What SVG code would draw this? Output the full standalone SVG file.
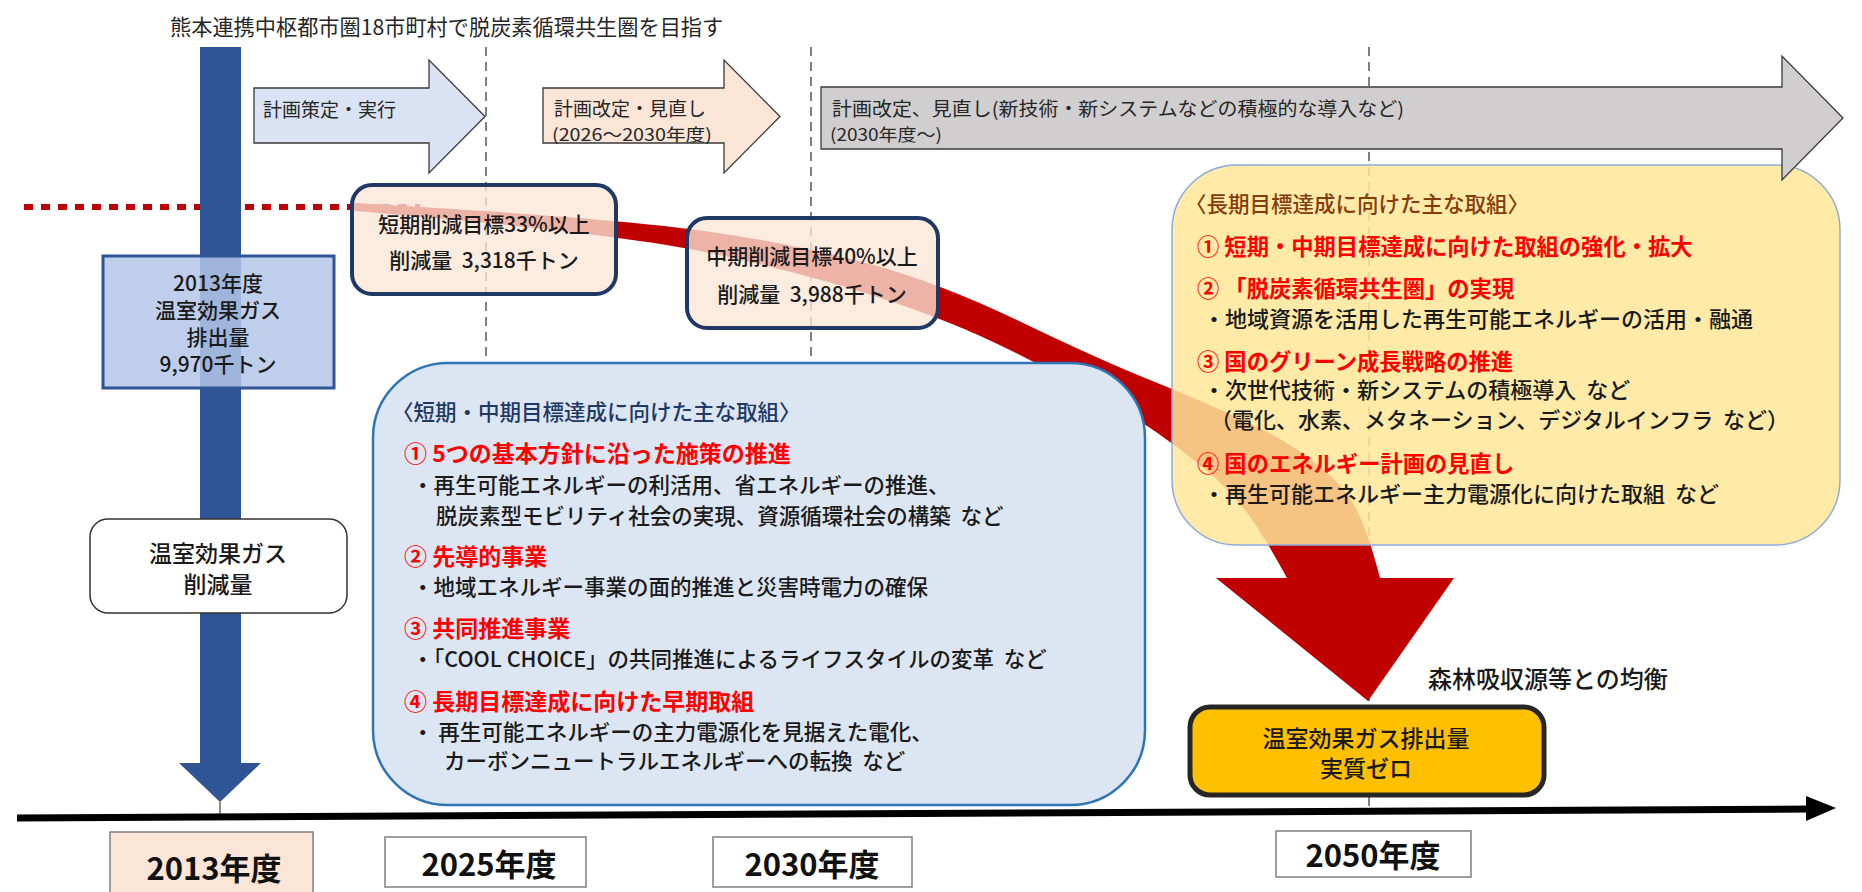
<svg xmlns="http://www.w3.org/2000/svg" width="1862" height="892" viewBox="0 0 1862 892">
<style>
text { font-family: "Noto Sans CJK JP", "Noto Sans", sans-serif; dominant-baseline: central; fill: #1a1a1a; }
.c { text-anchor: middle; }
.m { font-weight: 500; }
.ar { font-size: 19px; fill: #262626; }
.ars { font-size: 17px; fill: #262626; }
.bx { font-size: 21px; font-weight: 500; }
.bb { font-size: 21.5px; font-weight: 500; }
.yb { font-size: 22px; font-weight: 500; }
.red { fill: #ff0000; font-weight: bold; font-size: 23px; }
.redY { fill: #ff0000; font-weight: bold; font-size: 22.3px; }
.hdrB { fill: #203864; font-size: 21.5px; font-weight: 500; }
.hdrY { fill: #843c0c; font-size: 21.5px; font-weight: 500; }
.lbl { font-size: 31px; font-weight: bold; text-anchor: middle; fill: #111; }
.dash { stroke: #7f7f7f; stroke-width: 2; stroke-dasharray: 9 6; fill: none; }
.lblbox { fill: #ffffff; stroke: #7f7f7f; stroke-width: 1.5; }
.tgt { fill: #fbe5d6; fill-opacity: 0.78; stroke: #1f3864; stroke-width: 4; }
.parr { stroke: #3a3a3a; stroke-width: 1.3; }
</style>

<g id="guides">
  <line class="dash" x1="486" y1="47" x2="486" y2="815"/>
  <line class="dash" x1="811" y1="47" x2="811" y2="813"/>
  <line class="dash" x1="1369" y1="47" x2="1369" y2="811"/>
</g>

<g id="title">
  <text x="170" y="25" style="font-size:21.2px;fill:#262626">熊本連携中枢都市圏18市町村で脱炭素循環共生圏を目指す</text>
</g>

<g id="connectors">
  <line x1="24" y1="207" x2="420" y2="207" stroke="#c00000" stroke-width="6" stroke-dasharray="9 8"/>
  <path id="reduction-arrow" fill="#c00000" d="M 355,203 Q 616,218 708,231.5 Q 800,245 870,264 Q 940,283 1020,321.5 Q 1100,360 1150,380 Q 1200,400 1245,421 Q 1290,442 1317.5,464.5 Q 1345,487 1356.5,509.5 Q 1368,532 1380,578 L 1454,578 L 1368,701 L 1216,578 L 1287,578 Q 1262,532 1245,510 Q 1228,488 1205,469 Q 1182,450 1157.5,433 Q 1133,416 1086.5,390 Q 1040,364 990,340.5 Q 940,317 870,294.5 Q 800,272 708,252.5 Q 616,233 355,211 Z"/>
  <rect x="200" y="47" width="41" height="716" fill="#2f5597"/>
  <polygon points="179,763 261,763 220,802" fill="#2f5597"/>
  <line x1="220" y1="802" x2="220" y2="816" stroke="#8c8c8c" stroke-width="2"/>
  <line x1="17" y1="818" x2="1812" y2="809" stroke="#000" stroke-width="7"/>
  <polygon points="1806,796 1836,808 1806,821" fill="#000"/>
</g>

<g id="base-2013">
  <rect x="103" y="256" width="231" height="132" fill="#b4c7e7" fill-opacity="0.85" stroke="#2f5597" stroke-width="3"/>
  <text class="bx c" x="218" y="282">2013年度</text>
  <text class="bx c" x="218" y="309">温室効果ガス</text>
  <text class="bx c" x="218" y="336">排出量</text>
  <text class="bx c" x="218" y="363">9,970千トン</text>
</g>

<g id="reduction-label">
  <rect x="90" y="519" width="257" height="94" rx="18" fill="#fff" stroke="#333" stroke-width="1.5"/>
  <text class="c m" x="218" y="552" style="font-size:23px">温室効果ガス</text>
  <text class="c m" x="218" y="583" style="font-size:23px">削減量</text>
</g>

<g id="target-short">
  <rect class="tgt" x="352" y="185" width="264" height="109" rx="20"/>
  <text class="bx c" x="484" y="223">短期削減目標33%以上</text>
  <text class="bx c" x="484" y="259">削減量&#160;&#160;3,318千トン</text>
</g>

<g id="target-mid">
  <rect class="tgt" x="687" y="218" width="251" height="110" rx="20"/>
  <text class="bx c" x="812" y="255">中期削減目標40%以上</text>
  <text class="bx c" x="812" y="293">削減量&#160;&#160;3,988千トン</text>
</g>

<g id="measures-short-mid">
  <rect x="373" y="363" width="772" height="442" rx="75" fill="#dce6f2" stroke="#2e75b6" stroke-width="2.5"/>
  <text class="hdrB" x="392" y="410">〈短期・中期目標達成に向けた主な取組〉</text>
  <text class="red" x="404" y="452">① 5つの基本方針に沿った施策の推進</text>
  <text class="bb" x="412" y="483">・再生可能エネルギーの利活用、省エネルギーの推進、</text>
  <text class="bb" x="436" y="514">脱炭素型モビリティ社会の実現、資源循環社会の構築&#160;&#160;など</text>
  <text class="red" x="404" y="555">② 先導的事業</text>
  <text class="bb" x="412" y="585">・地域エネルギー事業の面的推進と災害時電力の確保</text>
  <text class="red" x="404" y="627">③ 共同推進事業</text>
  <text class="bb" x="412" y="657">・「COOL CHOICE」の共同推進によるライフスタイルの変革&#160;&#160;など</text>
  <text class="red" x="404" y="700">④ 長期目標達成に向けた早期取組</text>
  <text class="bb" x="412" y="730">・ 再生可能エネルギーの主力電源化を見据えた電化、</text>
  <text class="bb" x="444" y="759">カーボンニュートラルエネルギーへの転換&#160;&#160;など</text>
</g>

<g id="measures-long">
  <rect x="1172" y="165" width="668" height="380" rx="65" fill="#ffe699" fill-opacity="0.85" stroke="#8eaadb" stroke-width="1.5"/>
  <text class="hdrY" x="1185" y="202">〈長期目標達成に向けた主な取組〉</text>
  <text class="redY" x="1197" y="245">① 短期・中期目標達成に向けた取組の強化・拡大</text>
  <text class="redY" x="1197" y="287">② 「脱炭素循環共生圏」の実現</text>
  <text class="yb" x="1203" y="317">・地域資源を活用した再生可能エネルギーの活用・融通</text>
  <text class="redY" x="1197" y="360">③ 国のグリーン成長戦略の推進</text>
  <text class="yb" x="1203" y="388">・次世代技術・新システムの積極導入&#160;&#160;など</text>
  <text class="yb" x="1210" y="418">（電化、水素、メタネーション、デジタルインフラ&#160;&#160;など）</text>
  <text class="redY" x="1197" y="462">④ 国のエネルギー計画の見直し</text>
  <text class="yb" x="1203" y="492">・再生可能エネルギー主力電源化に向けた取組&#160;&#160;など</text>
</g>

<g id="phase-1">
  <path class="parr" fill="#dae3f3" d="M254,88 H429 V60 L485,116.5 L429,173 V143 H254 Z"/>
  <text class="ar" x="263" y="108">計画策定・実行</text>
</g>
<g id="phase-2">
  <path class="parr" fill="#fbe5d6" d="M543,88 H724 V60 L780,116.5 L724,173 V143 H543 Z"/>
  <text class="ar" x="554" y="107">計画改定・見直し</text>
  <text class="ars" x="552" y="133" textLength="160" lengthAdjust="spacingAndGlyphs">(2026～2030年度)</text>
</g>
<g id="phase-3">
  <path class="parr" fill="#d0cece" d="M821,87 H1782 V56 L1843,118 L1782,180 V149 H821 Z"/>
  <text class="ar" x="832" y="107" textLength="572" lengthAdjust="spacingAndGlyphs">計画改定、見直し(新技術・新システムなどの積極的な導入など)</text>
  <text class="ars" x="830" y="133" textLength="112" lengthAdjust="spacingAndGlyphs">(2030年度～)</text>
</g>

<g id="forest-note">
  <text class="m" x="1428" y="677" style="font-size:24px">森林吸収源等との均衡</text>
</g>

<g id="net-zero">
  <rect x="1190" y="707" width="354" height="88" rx="20" fill="#ffc000" stroke="#262626" stroke-width="5"/>
  <text class="c m" x="1366" y="737" style="font-size:23px">温室効果ガス排出量</text>
  <text class="c m" x="1366" y="767" style="font-size:23px">実質ゼロ</text>
</g>

<g id="year-2013">
  <rect x="110" y="832" width="203" height="70" fill="#fbe5d6" stroke="#7f7f7f" stroke-width="1.5"/>
  <text class="lbl" x="214" y="866">2013年度</text>
</g>
<g id="year-2025">
  <rect class="lblbox" x="385" y="837" width="201" height="50"/>
  <text class="lbl" x="489" y="862">2025年度</text>
</g>
<g id="year-2030">
  <rect class="lblbox" x="713" y="837" width="199" height="50"/>
  <text class="lbl" x="812" y="862">2030年度</text>
</g>
<g id="year-2050">
  <rect class="lblbox" x="1276" y="831" width="195" height="46"/>
  <text class="lbl" x="1373" y="853">2050年度</text>
</g>
</svg>
